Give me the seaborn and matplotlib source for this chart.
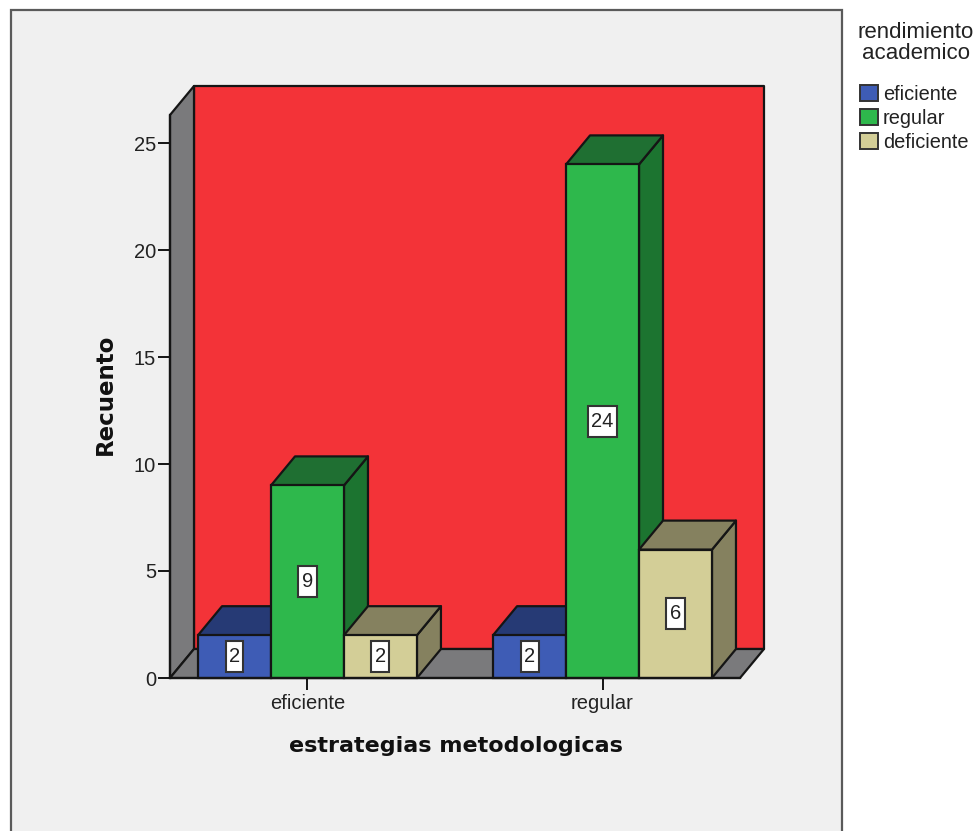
import matplotlib
matplotlib.use("Agg")
import matplotlib.pyplot as plt
from matplotlib.patches import Polygon, Rectangle
from matplotlib.path import Path
import pandas as pd
import seaborn as sns

# Counts by teaching strategy and academic performance
estrategias = ["eficiente", "eficiente", "eficiente", "regular", "regular", "regular"]
rendimiento = ["eficiente", "regular", "deficiente", "eficiente", "regular", "deficiente"]
recuento = [2, 9, 2, 2, 24, 6]
niveles = ["eficiente", "regular", "deficiente"]
y_ticks = [0, 5, 10, 15, 20, 25]

FRONT = {"eficiente": "#3E5CB5", "regular": "#2EB84C", "deficiente": "#D3CE97"}
SIDE = {"eficiente": "#263A75", "regular": "#1C7430", "deficiente": "#85815F"}
TOP = {"eficiente": "#263A75", "regular": "#1F6F32", "deficiente": "#85815F"}
WALL = "#F33338"
GREY = "#7A7A7C"
INK = "#151515"
TEXT = "#222222"

W, H = 980, 831
sns.set_theme(style="white", rc={"font.family": ["Liberation Sans", "DejaVu Sans"]})
fig = plt.figure(figsize=(W / 100, H / 100), dpi=100, facecolor="white")

# Chart panel, open past the lower edge of the figure
fig.add_artist(Rectangle((11 / W, -0.02), 831 / W, 1.02 - 9.5 / H, transform=fig.transFigure,
                         facecolor="#F0F0F0", edgecolor="#5A5A5A", linewidth=1.6, zorder=-5))

ax = fig.add_axes([170 / W, 1 - 678 / H, 570 / W, 563 / H])
ax.patch.set_alpha(0)

df = pd.DataFrame({"estrategias": estrategias, "rendimiento": rendimiento, "recuento": recuento})
sns.barplot(data=df, x="estrategias", y="recuento", hue="rendimiento", hue_order=niveles,
            palette=FRONT, width=0.742, gap=0, saturation=1, errorbar=None, legend=False,
            edgecolor=INK, linewidth=1.6, ax=ax)

xlim = (-0.466, 1.466)
ylim = (0, 563 / 21.4)
ax.set_xlim(xlim)
ax.set_ylim(ylim)

# Depth of the oblique projection, in data units
dx = 24 / 295
dy = 29 / 21.4


def face(points, color, z):
    ax.add_patch(Polygon(points, closed=True, facecolor=color, edgecolor=INK,
                         linewidth=1.6, clip_on=False, zorder=z, joinstyle="round"))


# Back wall, side wall and floor
x0, x1 = xlim
y1 = ylim[1]
face([(x0 + dx, dy), (x1 + dx, dy), (x1 + dx, y1 + dy), (x0 + dx, y1 + dy)], WALL, 0.5)
face([(x0, 0), (x0 + dx, dy), (x0 + dx, y1 + dy), (x0, y1)], GREY, 0.6)
face([(x0, 0), (x0 + dx, dy), (x1 + dx, dy), (x1, 0)], GREY, 0.6)

# Top and side faces are built from the bars seaborn drew
bars = []
for container, nivel in zip(ax.containers, niveles):
    bars += [(bar, nivel) for bar in container]
z = 2
for bar, nivel in sorted(bars, key=lambda item: item[0].get_x()):
    left, right = bar.get_x(), bar.get_x() + bar.get_width()
    h = bar.get_height()
    face([(right, 0), (right + dx, dy), (right + dx, h + dy), (right, h)], SIDE[nivel], z)
    face([(left, h), (left + dx, h + dy), (right + dx, h + dy), (right, h)], TOP[nivel], z + 0.1)
    bar.set_zorder(z + 0.2)
    bar.set_clip_on(False)
    z += 1


def tall_box(x, y, width, height, mutation_size):
    """Value label box: tight at the sides, roomy above and below."""
    px, py = 0.17 * mutation_size, 0.3 * mutation_size
    xa, xb, ya, yb = x - px, x + width + px, y - py, y + height + py
    return Path([(xa, ya), (xb, ya), (xb, yb), (xa, yb), (xa, ya)], closed=True)


for container in ax.containers:
    labels = ax.bar_label(container, label_type="center", fontsize=14.5, color=TEXT,
                          bbox=dict(boxstyle=tall_box, facecolor="white",
                                    edgecolor="#333333", linewidth=1.5))
    for label in labels:
        label.set_zorder(50)

ax.set_yticks(y_ticks)
ax.tick_params(axis="y", left=True, length=9, width=1.4, color=INK, labelsize=14.5, labelcolor=TEXT, pad=1)
ax.tick_params(axis="x", bottom=True, length=8.5, width=1.4, color=INK, labelsize=14.5, labelcolor=TEXT, pad=3)

ax.set_xlabel("estrategias metodologicas", fontsize=16, fontweight="bold",
              family="DejaVu Sans", color="#111111")
ax.xaxis.set_label_coords((456 - 170) / 570, -(736 - 678) / 563)
ax.set_ylabel("Recuento", fontsize=16.5, fontweight="bold", family="DejaVu Sans",
              color="#111111")
ax.yaxis.set_label_coords((117 - 170) / 570, (678 - 394) / 563)

for name, spine in ax.spines.items():
    spine.set_visible(name in ("left", "bottom"))
    spine.set_color(INK)
    spine.set_linewidth(1.6)
    spine.set_zorder(40)

# Legend to the right of the panel, with its heading set above the swatches
fig.text(916 / W, 1 - 43 / H, "rendimiento\nacademico", ha="center", va="center",
         fontsize=16, color=TEXT, linespacing=1.0, multialignment="center")
handles = [Rectangle((0, 0), 1, 1, facecolor=FRONT[n], edgecolor="#333333", linewidth=1.4) for n in niveles]
legend = fig.legend(handles, niveles,
                    loc="upper left", bbox_to_anchor=(860 / W, 1 - 84.5 / H),
                    frameon=False, fontsize=14.4,
                    handlelength=0.9, handleheight=0.85, handletextpad=0.25,
                    labelspacing=0.27, borderpad=0, borderaxespad=0,
                    labelcolor=TEXT)

fig.savefig("out.png", dpi=100, facecolor="white")
